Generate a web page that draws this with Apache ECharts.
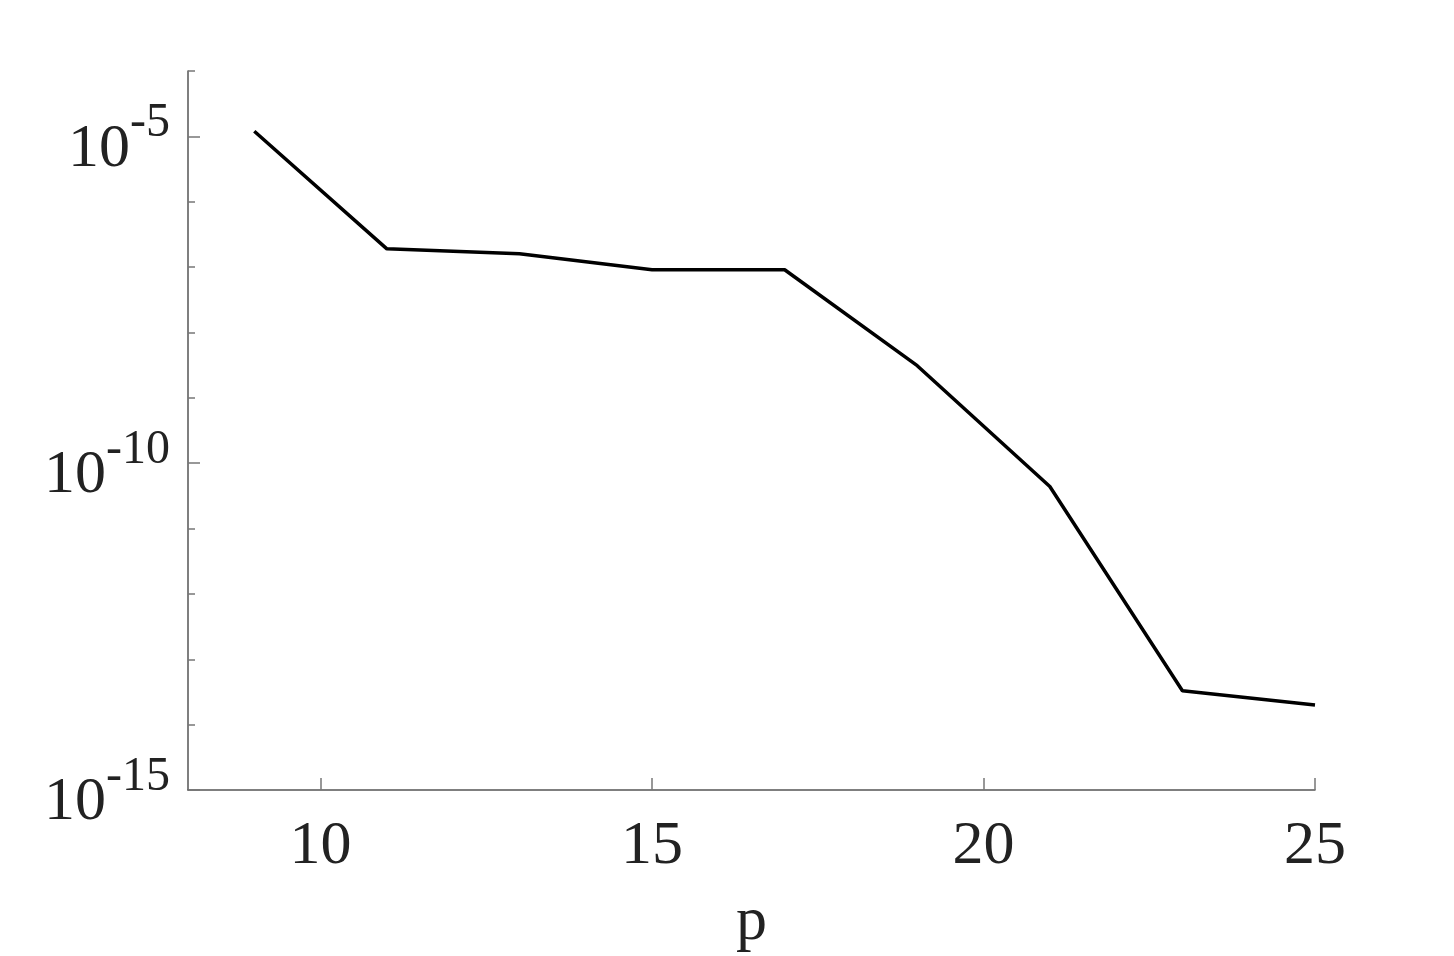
<!DOCTYPE html>
<html>
<head>
<meta charset="utf-8">
<script src="https://cdn.jsdelivr.net/npm/echarts@6/dist/echarts.min.js"></script>
<style>html,body{margin:0;padding:0;background:#fff;}#c{width:1454px;height:956px;}</style>
</head>
<body>
<div id="c"></div>
<script>
const pValues = [9, 11, 13, 15, 17, 19, 21, 23, 25];
const errValues = [1.2e-5, 1.9e-7, 1.6e-7, 9.1e-8, 9.1e-8, 3.1e-9, 4.4e-11, 3.3e-14, 2.0e-14];
const xTickValues = [10, 15, 20, 25];
const yLabelExponents = [-15, -10, -5];
const xName = 'p';

const seriesData = pValues.map((p, i) => [p, errValues[i]]);
const serif = '"Liberation Serif", "DejaVu Serif", serif';

const chart = echarts.init(document.getElementById('c'), null, {renderer: 'canvas'});
function expOf(v) { return Math.round(Math.log10(v)); }

chart.setOption({
  animation: false,
  backgroundColor: '#fff',
  grid: {left: 188, right: 139, top: 71, bottom: 166, containLabel: false, outerBoundsMode: 'none'},
  xAxis: {
    type: 'value', min: 8, max: 25,
    name: xName, nameLocation: 'middle', nameGap: 102,
    nameTextStyle: {fontFamily: serif, fontSize: 62, color: '#222'},
    axisLine: {show: true, lineStyle: {color: '#555', width: 1.5}},
    axisTick: {show: true, inside: true, length: 12, lineStyle: {color: '#777', width: 1.5}, customValues: xTickValues},
    axisLabel: {show: true, margin: 26, fontFamily: serif, fontSize: 62, color: '#222', customValues: xTickValues},
    splitLine: {show: false}
  },
  yAxis: [{
    type: 'log', logBase: 10, min: 1e-15, max: 1e-4, interval: 1,
    axisLine: {show: true, lineStyle: {color: '#555', width: 1.5}},
    axisTick: {show: true, inside: true, length: 7, lineStyle: {color: '#777', width: 1.5}},
    axisLabel: {
      show: true, margin: 18,
      formatter: function (v) {
        const e = expOf(v);
        if (yLabelExponents.indexOf(e) < 0) return '';
        return '{b|10}{s|' + e + '}';
      },
      rich: {
        b: {fontFamily: serif, fontSize: 62, color: '#222', lineHeight: 62, padding: [26, 0, 0, 0]},
        s: {fontFamily: serif, fontSize: 48, color: '#222', lineHeight: 48, padding: [0, 0, 26, 0]}
      }
    },
    splitLine: {show: false}
  }, {
    type: 'log', logBase: 10, min: 1e-15, max: 1e-4, position: 'left',
    axisLine: {show: false},
    axisTick: {show: true, inside: true, length: 12, lineStyle: {color: '#777', width: 1.5},
      customValues: yLabelExponents.map(e => Math.pow(10, e))},
    axisLabel: {show: false},
    splitLine: {show: false}
  }],
  series: [{
    type: 'line', data: seriesData, yAxisIndex: 0,
    showSymbol: false, symbol: 'none',
    lineStyle: {color: '#000', width: 3.5},
    itemStyle: {color: '#000'}
  }]
});
</script>
</body>
</html>
